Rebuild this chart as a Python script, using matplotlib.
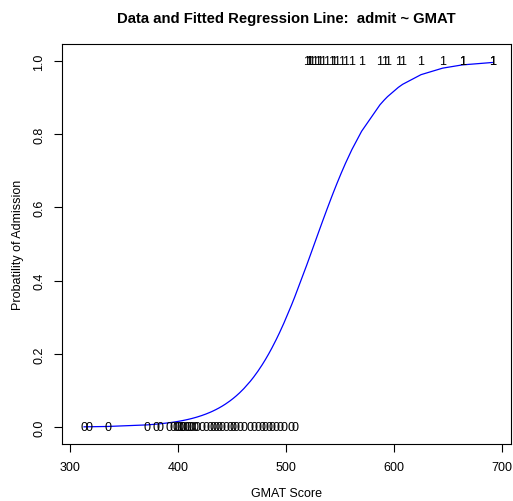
import numpy as np
import matplotlib
matplotlib.use("Agg")
import matplotlib.pyplot as plt

plt.rcParams['font.family'] = ['Liberation Sans', 'DejaVu Sans']

# GMAT scores of rejected applicants (admit = 0)
gmat_rejected = [313, 318, 335, 371, 380, 383, 392, 395, 398, 400, 402, 404,
                 405, 407, 409, 411, 413, 416, 418, 422, 426, 430, 432, 435,
                 438, 441, 444, 448, 451, 454, 457, 461, 467, 470, 474, 478,
                 481, 484, 487, 491, 494, 498, 505, 508]
# GMAT scores of admitted applicants (admit = 1)
gmat_admitted = [519, 521, 522, 524, 526, 529, 531, 534, 538, 542, 544, 547,
                 551, 555, 561, 570, 587, 591, 594, 604, 608, 625, 645, 663,
                 663, 691, 691]
# fitted logistic regression coefficients
b0 = -17.26
b1 = 0.0328

fig = plt.figure(figsize=(5.13, 5.02), dpi=100)
ax = fig.add_axes([62/513, 1 - 445/502, (511-62)/513, (445-45)/502])

gx = np.sort(np.array(gmat_rejected + gmat_admitted, dtype=float))
fitted = 1 / (1 + np.exp(-(b0 + b1 * gx)))
ax.plot(gx, fitted, color='blue', lw=0.9)

for g in gmat_rejected:
    ax.text(g, 0, '0', ha='center', va='center', fontsize=9)
for g in gmat_admitted:
    ax.text(g, 1, '1', ha='center', va='center', fontsize=9)

ax.set_xlim(292.6, 708.3)
ax.set_ylim(-0.046, 1.046)
ax.set_xticks([300, 400, 500, 600, 700])
ax.set_yticks([0.0, 0.2, 0.4, 0.6, 0.8, 1.0])
ax.set_yticklabels(['0.0', '0.2', '0.4', '0.6', '0.8', '1.0'], rotation=90, va='center')
ax.tick_params(direction='out', length=6, labelsize=9, width=0.8, pad=6)
for s in ax.spines.values():
    s.set_linewidth(0.8)

ax.set_xlabel('GMAT Score', fontsize=9, labelpad=10)
ax.set_ylabel('Probatility of Admission', fontsize=9, labelpad=7)
ax.set_title('Data and Fitted Regression Line:  admit ~ GMAT', fontsize=10.7,
             fontweight='bold', pad=16)

fig.savefig('out.png', dpi=100)
